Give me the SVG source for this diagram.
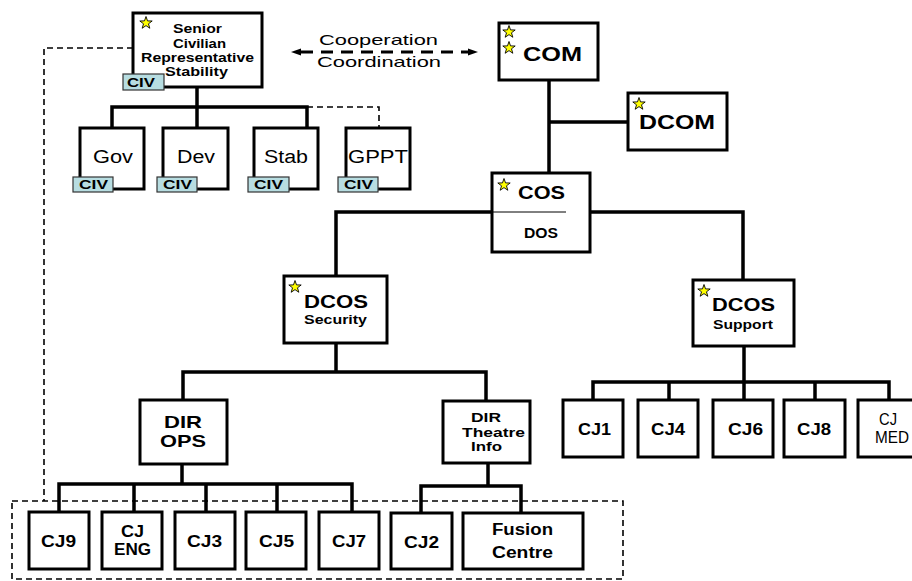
<svg xmlns="http://www.w3.org/2000/svg" xmlns:xlink="http://www.w3.org/1999/xlink" width="912" height="581" viewBox="0 0 912 581">
<style>
.box{fill:#fff;stroke:#000;stroke-width:3}
.civ{fill:#b7dde1;stroke:#333;stroke-width:1.2}
.ln{fill:none;stroke:#000;stroke-width:3.5;stroke-linecap:square}
.dl{fill:none;stroke:#000;stroke-width:1.6;stroke-dasharray:6 4}
.t{font-family:"Liberation Sans",Arial,sans-serif;fill:#000}
.b{font-weight:bold}
.star{fill:#ffff00;stroke:#000;stroke-width:0.9;stroke-linejoin:miter}
</style>
<defs>
<path id="star" class="star" d="M0,-6.5 L1.53,-2.1 6.18,-2.01 2.47,0.8 3.82,5.26 0,2.6 -3.82,5.26 -2.47,0.8 -6.18,-2.01 -1.53,-2.1 Z"/>
<marker id="ah" markerUnits="userSpaceOnUse" markerWidth="10" markerHeight="8" refX="0" refY="3.5" orient="auto-start-reverse" viewBox="0 0 10 7">
<path d="M0,0 L10,3.5 L0,7 Z" fill="#000"/>
</marker>
</defs>

<g id="connectors">
<path class="ln" d="M197,87 V128 M112,107 H307 M112,107 V128 M307,107 V128"/>
<path class="dl" d="M307,107 H379 V128"/>
<path class="dl" d="M133,48 H44 V501"/>
<rect class="dl" x="12" y="501" width="611" height="78"/>
<line x1="301" y1="52" x2="468" y2="52" stroke="#000" stroke-width="3" stroke-dasharray="12 8" marker-start="url(#ah)" marker-end="url(#ah)"/>
<path class="ln" d="M549,80 V173 M549,122 H628"/>
<path class="ln" d="M492,212 H336 V276 M591,212 H743 V280"/>
<path class="ln" d="M336,343 V372 M183,372 H486 M183,372 V400 M486,372 V401"/>
<path class="ln" d="M182,464 V484 M59,484 H352 M59,484 V512 M134,484 V512 M206,484 V512 M277,484 V512 M352,484 V512"/>
<path class="ln" d="M488,463 V486 M421,486 H521 M421,486 V512 M521,486 V512"/>
<path class="ln" d="M744,346 V382 M593,382 H889 M593,382 V400 M669,382 V400 M744,382 V400 M815,382 V400 M889,382 V400"/>
</g>

<g id="senior">
<rect class="box" x="133" y="13" width="129" height="74"/>
<use href="#star" x="146" y="23"/>
<text class="t b" font-size="13" x="173" y="33" textLength="49" lengthAdjust="spacingAndGlyphs">Senior</text>
<text class="t b" font-size="13" x="173" y="48" textLength="53" lengthAdjust="spacingAndGlyphs">Civilian</text>
<text class="t b" font-size="13" x="141" y="62" textLength="113" lengthAdjust="spacingAndGlyphs">Representative</text>
<text class="t b" font-size="13" x="165" y="76" textLength="63" lengthAdjust="spacingAndGlyphs">Stability</text>
<rect class="civ" x="123" y="74" width="41" height="16"/>
<text class="t b" font-size="12" x="127" y="87" textLength="28" lengthAdjust="spacingAndGlyphs">CIV</text>
</g>

<g id="gov">
<rect class="box" x="80" y="128" width="64" height="61"/>
<text class="t" font-size="18" x="93" y="163" textLength="40" lengthAdjust="spacingAndGlyphs">Gov</text>
<rect class="civ" x="73" y="177" width="40" height="15"/>
<text class="t b" font-size="12" x="79" y="189" textLength="29" lengthAdjust="spacingAndGlyphs">CIV</text>
</g>
<g id="dev">
<rect class="box" x="163" y="128" width="65" height="61"/>
<text class="t" font-size="18" x="177" y="163" textLength="38" lengthAdjust="spacingAndGlyphs">Dev</text>
<rect class="civ" x="157" y="177" width="40" height="15"/>
<text class="t b" font-size="12" x="163" y="189" textLength="29" lengthAdjust="spacingAndGlyphs">CIV</text>
</g>
<g id="stab">
<rect class="box" x="254" y="128" width="64" height="61"/>
<text class="t" font-size="18" x="264" y="163" textLength="44" lengthAdjust="spacingAndGlyphs">Stab</text>
<rect class="civ" x="248" y="177" width="41" height="15"/>
<text class="t b" font-size="12" x="254" y="189" textLength="29" lengthAdjust="spacingAndGlyphs">CIV</text>
</g>
<g id="gppt">
<rect class="box" x="346" y="128" width="64" height="61"/>
<text class="t" font-size="18" x="348" y="163" textLength="60" lengthAdjust="spacingAndGlyphs">GPPT</text>
<rect class="civ" x="338" y="177" width="40" height="15"/>
<text class="t b" font-size="12" x="344" y="189" textLength="29" lengthAdjust="spacingAndGlyphs">CIV</text>
</g>

<g id="coop-label">
<text class="t" font-size="15" x="319" y="45" textLength="119" lengthAdjust="spacingAndGlyphs">Cooperation</text>
<text class="t" font-size="15" x="317" y="67" textLength="124" lengthAdjust="spacingAndGlyphs">Coordination</text>
</g>

<g id="com">
<rect class="box" x="499" y="23" width="99" height="57"/>
<use href="#star" x="509" y="32"/>
<use href="#star" x="509" y="48"/>
<text class="t b" font-size="21" x="523" y="61" textLength="59" lengthAdjust="spacingAndGlyphs">COM</text>
</g>
<g id="dcom">
<rect class="box" x="628" y="93" width="99" height="57"/>
<use href="#star" x="639" y="104"/>
<text class="t b" font-size="20" x="639" y="129" textLength="76" lengthAdjust="spacingAndGlyphs">DCOM</text>
</g>
<g id="cos">
<rect class="box" x="492" y="173" width="98" height="79"/>
<use href="#star" x="504" y="185"/>
<text class="t b" font-size="19" x="518" y="199" textLength="47" lengthAdjust="spacingAndGlyphs">COS</text>
<line x1="492" y1="212" x2="566" y2="212" stroke="#000" stroke-width="1"/>
<text class="t b" font-size="14" x="524" y="238" textLength="34" lengthAdjust="spacingAndGlyphs">DOS</text>
</g>
<g id="dcos-security">
<rect class="box" x="284" y="276" width="103" height="67"/>
<use href="#star" x="295" y="287"/>
<text class="t b" font-size="19" x="304" y="308" textLength="64" lengthAdjust="spacingAndGlyphs">DCOS</text>
<text class="t b" font-size="12.5" x="304" y="324" textLength="63" lengthAdjust="spacingAndGlyphs">Security</text>
</g>
<g id="dcos-support">
<rect class="box" x="693" y="280" width="101" height="66"/>
<use href="#star" x="704" y="291"/>
<text class="t b" font-size="19" x="712" y="311" textLength="63" lengthAdjust="spacingAndGlyphs">DCOS</text>
<text class="t b" font-size="12.5" x="713" y="329" textLength="60" lengthAdjust="spacingAndGlyphs">Support</text>
</g>
<g id="dir-ops">
<rect class="box" x="140" y="400" width="87" height="64"/>
<text class="t b" font-size="17" x="164" y="428" textLength="38" lengthAdjust="spacingAndGlyphs">DIR</text>
<text class="t b" font-size="17" x="160" y="447" textLength="46" lengthAdjust="spacingAndGlyphs">OPS</text>
</g>
<g id="dir-theatre">
<rect class="box" x="443" y="401" width="87" height="62"/>
<text class="t b" font-size="13.5" x="471" y="422" textLength="30" lengthAdjust="spacingAndGlyphs">DIR</text>
<text class="t b" font-size="13.5" x="462" y="437" textLength="63" lengthAdjust="spacingAndGlyphs">Theatre</text>
<text class="t b" font-size="13.5" x="471" y="451" textLength="31" lengthAdjust="spacingAndGlyphs">Info</text>
</g>

<g id="cj9"><rect class="box" x="29" y="512" width="60" height="57"/><text class="t b" font-size="16" x="41" y="547" textLength="35" lengthAdjust="spacingAndGlyphs">CJ9</text></g>
<g id="cjeng"><rect class="box" x="102" y="512" width="60" height="57"/><text class="t b" font-size="16" x="121" y="537" textLength="23" lengthAdjust="spacingAndGlyphs">CJ</text><text class="t b" font-size="16" x="114" y="555" textLength="37" lengthAdjust="spacingAndGlyphs">ENG</text></g>
<g id="cj3"><rect class="box" x="175" y="512" width="60" height="57"/><text class="t b" font-size="16" x="187" y="547" textLength="35" lengthAdjust="spacingAndGlyphs">CJ3</text></g>
<g id="cj5"><rect class="box" x="246" y="512" width="60" height="57"/><text class="t b" font-size="16" x="259" y="547" textLength="35" lengthAdjust="spacingAndGlyphs">CJ5</text></g>
<g id="cj7"><rect class="box" x="319" y="512" width="60" height="57"/><text class="t b" font-size="16" x="332" y="547" textLength="34" lengthAdjust="spacingAndGlyphs">CJ7</text></g>
<g id="cj2"><rect class="box" x="391" y="513" width="61" height="56"/><text class="t b" font-size="16" x="404" y="548" textLength="35" lengthAdjust="spacingAndGlyphs">CJ2</text></g>
<g id="fusion"><rect class="box" x="463" y="513" width="120" height="56"/><text class="t b" font-size="16" x="492" y="535" textLength="61" lengthAdjust="spacingAndGlyphs">Fusion</text><text class="t b" font-size="16" x="492" y="558" textLength="61" lengthAdjust="spacingAndGlyphs">Centre</text></g>

<g id="cj1"><rect class="box" x="563" y="400" width="60" height="57"/><text class="t b" font-size="16" x="578" y="435" textLength="33" lengthAdjust="spacingAndGlyphs">CJ1</text></g>
<g id="cj4"><rect class="box" x="638" y="400" width="60" height="57"/><text class="t b" font-size="16" x="651" y="435" textLength="34" lengthAdjust="spacingAndGlyphs">CJ4</text></g>
<g id="cj6"><rect class="box" x="713" y="400" width="60" height="57"/><text class="t b" font-size="16" x="728" y="435" textLength="35" lengthAdjust="spacingAndGlyphs">CJ6</text></g>
<g id="cj8"><rect class="box" x="784" y="400" width="61" height="57"/><text class="t b" font-size="16" x="797" y="435" textLength="34" lengthAdjust="spacingAndGlyphs">CJ8</text></g>
<g id="cjmed"><rect class="box" x="858" y="400" width="60" height="57"/><text class="t" font-size="16" x="879" y="425" textLength="18" lengthAdjust="spacingAndGlyphs">CJ</text><text class="t" font-size="16" x="875" y="443" textLength="34" lengthAdjust="spacingAndGlyphs">MED</text></g>
</svg>
